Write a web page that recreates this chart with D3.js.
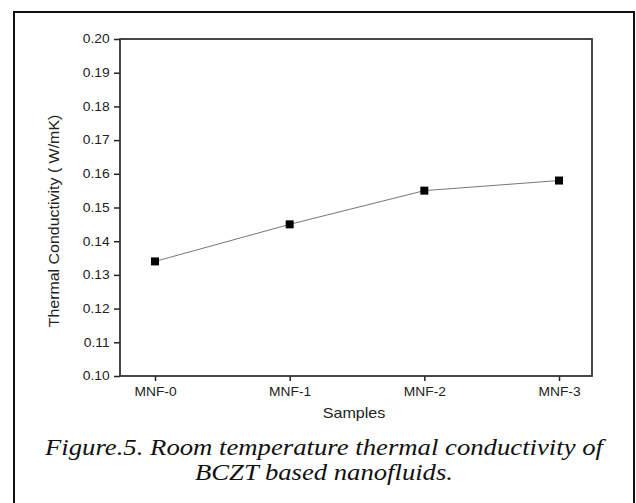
<!DOCTYPE html>
<html><head><meta charset="utf-8">
<script src="https://cdn.jsdelivr.net/npm/d3@7"></script>
<style>body{margin:0;background:#fff}svg{display:block}</style>
</head><body>
<script>
const categories = ["MNF-0","MNF-1","MNF-2","MNF-3"];
const values = [0.134, 0.145, 0.155, 0.158];
const yTicks = [0.10,0.11,0.12,0.13,0.14,0.15,0.16,0.17,0.18,0.19,0.20];
const yLabel = "Thermal Conductivity ( W/mK)";
const xLabel = "Samples";
const caption = ["Figure.5. Room temperature thermal conductivity of", "BCZT based nanofluids."];

const W = 636, H = 503;
const svg = d3.select("body").append("svg").attr("width", W).attr("height", H);
const SANS = "Liberation Sans, Arial, sans-serif";
const SERIF = "Liberation Serif, Times New Roman, serif";

// outer frame
svg.append("path").attr("d", `M14,${H+5} L14,12 L634,12 L634,${H+5}`)
  .attr("fill","none").attr("stroke","#111").attr("stroke-width",2);

const L = 120, R = 592, T = 39, B = 376;
const x = d3.scaleLinear().domain([-0.26, 3.245]).range([L, R]);
const y = d3.scaleLinear().domain([0.10, 0.20]).range([B, T]);

// axes
const yAxis = d3.axisLeft(y).tickValues(yTicks).tickFormat(d3.format(".2f")).tickSize(6).tickPadding(3);
const xAxis = d3.axisBottom(x).tickValues(d3.range(categories.length)).tickFormat(i => categories[i]).tickSize(5).tickPadding(6);

const gy = svg.append("g").attr("transform", `translate(${L},0)`).call(yAxis);
const gx = svg.append("g").attr("transform", `translate(0,${B})`).call(xAxis);
[gx, gy].forEach(g => {
  g.select(".domain").remove();
  g.selectAll("line").attr("stroke","#222").attr("stroke-width",1.5);
  g.selectAll("text").attr("font-family",SANS).attr("font-size",12).attr("fill","#222")
    .attr("transform","scale(1.15,1)");
});

// plot frame
svg.append("rect").attr("x", L).attr("y", T).attr("width", R-L).attr("height", B-T)
  .attr("fill","none").attr("stroke","#333").attr("stroke-width",1.8);

// line
const line = d3.line().x((d,i) => x(i)).y(d => y(d));
svg.append("path").datum(values).attr("d", line)
  .attr("fill","none").attr("stroke","#777").attr("stroke-width",1);

svg.selectAll("rect.pt").data(values).enter().append("rect").attr("class","pt")
  .attr("x",(d,i)=>x(i)-4).attr("y",d=>y(d)-4).attr("width",8).attr("height",8).attr("fill","#000");

// labels
svg.append("text").attr("transform", `translate(59,221) rotate(-90) scale(1.14,1)`)
  .attr("text-anchor","middle").attr("font-family",SANS)
  .attr("font-size",14).attr("fill","#222").text(yLabel);
svg.append("text").attr("transform", `translate(354,418) scale(1.15,1)`).attr("text-anchor","middle")
  .attr("font-family",SANS).attr("font-size",14).attr("fill","#222").text(xLabel);

svg.append("text").attr("x",45).attr("y",455).attr("textLength",558).attr("lengthAdjust","spacingAndGlyphs")
  .attr("font-family",SERIF).attr("font-style","italic")
  .attr("font-size",23).attr("fill","#111").text(caption[0]);
svg.append("text").attr("x",195).attr("y",480).attr("textLength",258).attr("lengthAdjust","spacingAndGlyphs")
  .attr("font-family",SERIF).attr("font-style","italic")
  .attr("font-size",23).attr("fill","#111").text(caption[1]);
</script>
</body></html>
